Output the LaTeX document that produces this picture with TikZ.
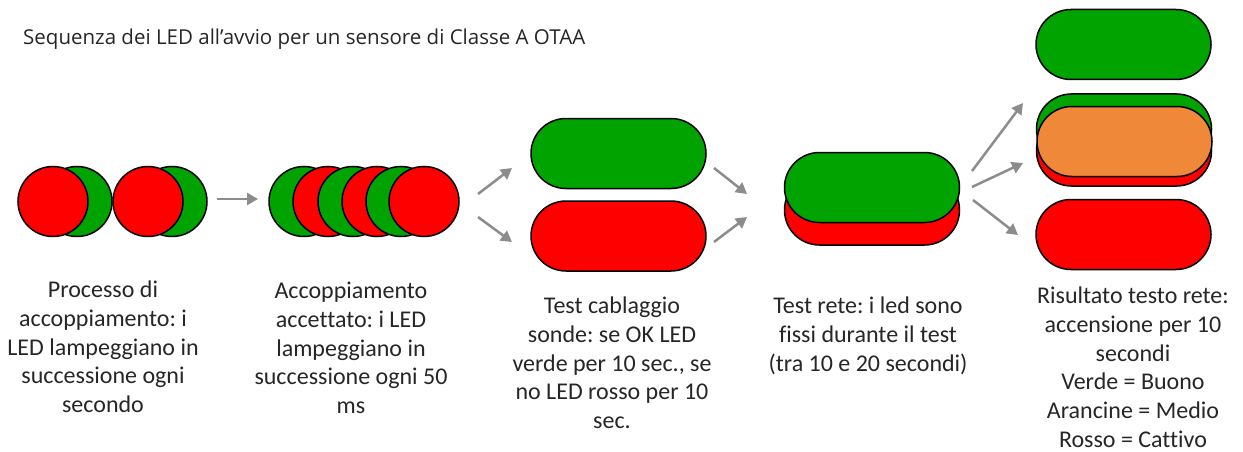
\documentclass[tikz,border=0pt]{standalone}
\usepackage{fontspec}
\setmainfont{Carlito}[Ligatures={NoCommon}]
\newfontfamily\titlefont{Open Sans}
\usetikzlibrary{arrows.meta}
\definecolor{ledgreen}{RGB}{0,163,0}
\definecolor{ledred}{RGB}{255,0,0}
\definecolor{ledorange}{RGB}{239,136,56}
\definecolor{arrowgray}{RGB}{140,140,140}
\definecolor{txt}{RGB}{38,38,38}
\frenchspacing
\tikzset{
  led/.style={circle, draw=black, line width=1.5pt, minimum size=70pt, inner sep=0pt},
  pill/.style={rectangle, rounded corners=35pt, draw=black, line width=1.5pt, minimum width=175pt, minimum height=70pt, inner sep=0pt},
  flow/.style={draw=arrowgray, line width=2.5pt, -{Triangle[length=11pt,width=12pt]}},
  caption/.style={align=center, anchor=north, inner sep=0pt, text=txt, font=\fontsize{24}{28.7}\selectfont}
}
\begin{document}
\begin{tikzpicture}[x=1pt,y=-1pt]
\useasboundingbox (0,0) rectangle (1243,452);
% title
\node[anchor=base west, inner sep=0pt, text=txt, font=\titlefont\fontsize{20.5}{24}\selectfont] (title) at (23,44.5) {Sequenza dei LED all’avvio per un sensore di Classe A OTAA};
% group 1
\node[led, fill=ledgreen] (g1) at (77,201.5) {};
\node[led, fill=ledred] (r1) at (53,201.5) {};
\node[led, fill=ledgreen] (g2) at (172,201.5) {};
\node[led, fill=ledred] (r2) at (148,201.5) {};
% group 2
\node[led, fill=ledgreen] (g3) at (304,201.5) {};
\node[led, fill=ledred] (r3) at (328,201.5) {};
\node[led, fill=ledgreen] (g4) at (353,201.5) {};
\node[led, fill=ledred] (r4) at (377,201.5) {};
\node[led, fill=ledgreen] (g5) at (401,201.5) {};
\node[led, fill=ledred] (r5) at (424,201.5) {};
% stage 3
\node[pill, fill=ledgreen] (s3g) at (618.5,153.5) {};
\node[pill, fill=ledred] (s3r) at (618.5,236) {};
% stage 4
\node[pill, fill=ledred] (s4r) at (872,210) {};
\node[pill, fill=ledgreen] (s4g) at (872,187.5) {};
% stage 5
\node[pill, fill=ledgreen] (s5g) at (1123.5,44.5) {};
\node[pill, fill=ledgreen] (s5mg) at (1124,129) {};
\node[pill, fill=ledred] (s5mr) at (1124,151) {};
\node[pill, fill=ledorange] (s5mo) at (1124.5,141.5) {};
\node[pill, fill=ledred] (s5r) at (1123.5,234.5) {};
% arrow end points
\coordinate (a1s) at (217,199); \coordinate (a1e) at (258,199);
\coordinate (a2s) at (478,194); \coordinate (a2e) at (512,168);
\coordinate (a3s) at (478,217); \coordinate (a3e) at (512,242);
\coordinate (a4s) at (714,168); \coordinate (a4e) at (747,194);
\coordinate (a5s) at (714,242); \coordinate (a5e) at (747,217);
\coordinate (a6s) at (972,171); \coordinate (a6e) at (1023,103);
\coordinate (a7s) at (972,187); \coordinate (a7e) at (1023,163);
\coordinate (a8s) at (973,200); \coordinate (a8e) at (1018,235);
\draw[flow] (a1s) -- (a1e);
\draw[flow] (a2s) -- (a2e);
\draw[flow] (a3s) -- (a3e);
\draw[flow] (a4s) -- (a4e);
\draw[flow] (a5s) -- (a5e);
\draw[flow] (a6s) -- (a6e);
\draw[flow] (a7s) -- (a7e);
\draw[flow] (a8s) -- (a8e);
% captions
\node[caption] (c1) at (103,281) {Processo di\\accoppiamento: i\\LED lampeggiano in\\successione ogni\\secondo};
\node[caption] (c2) at (351,282) {Accoppiamento\\accettato: i LED\\lampeggiano in\\successione ogni 50\\ms};
\node[caption] (c3) at (612,297) {Test cablaggio\\sonde: se OK LED\\verde per 10 sec., se\\no LED rosso per 10\\sec.};
\node[caption] (c4) at (868,297) {Test rete: i led sono\\fissi durante il test\\(tra 10 e 20 secondi)};
\node[caption] (c5) at (1133,287) {Risultato testo rete:\\accensione per 10\\secondi\\Verde = Buono\\Arancine = Medio\\Rosso = Cattivo};
\end{tikzpicture}
\end{document}
